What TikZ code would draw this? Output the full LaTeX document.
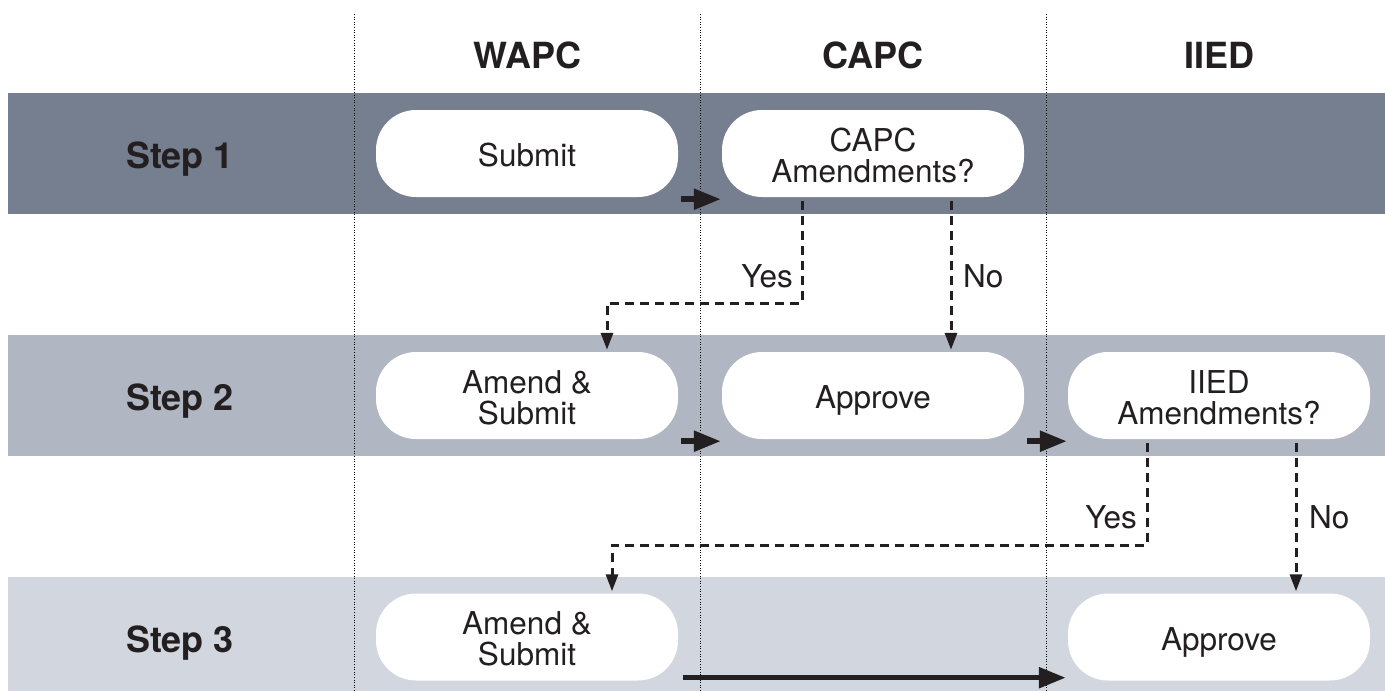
\documentclass[tikz,border=0pt]{standalone}
\usepackage{fontspec}
\setmainfont{TeX Gyre Heros}
\usetikzlibrary{arrows.meta,calc}
\definecolor{bandA}{RGB}{118,127,143}
\definecolor{bandB}{RGB}{176,182,194}
\definecolor{bandC}{RGB}{209,214,223}
\definecolor{ink}{RGB}{35,31,32}
\tikzset{
  box/.style={draw=none, fill=white, rounded corners=40pt, minimum width=302pt, minimum height=87pt, inner sep=0pt, align=center, text=ink, font=\fontsize{31.5}{31}\selectfont},
  oneline/.style={text height=26.5pt, text depth=0pt},
  twoline/.style={text height=57pt, text depth=0pt},
  header/.style={text=ink, font=\bfseries\fontsize{36}{40}\selectfont, inner sep=0pt, anchor=base},
  steplabel/.style={text=ink, font=\bfseries\fontsize{36}{40}\selectfont, inner sep=0pt, anchor=base},
  lbl/.style={text=ink, font=\fontsize{31.5}{35}\selectfont, inner sep=0pt},
  lane/.style={draw=black, line width=0.8pt, dash pattern=on 1pt off 1.6pt},
  flow/.style={draw=ink, line width=5.5pt, -{Triangle[length=27pt,width=20pt]}},
  choice/.style={draw=ink, line width=3pt, dash pattern=on 9pt off 6pt, -{Triangle[length=17pt,width=12pt]}}
}
\begin{document}
\begin{tikzpicture}[x=1pt,y=-1pt]
\useasboundingbox (0,0) rectangle (1385,691);
\fill[white] (0,0) rectangle (1385,691);
% bands
\fill[bandA] (8,93) rectangle (1385,214);
\fill[bandB] (8,335) rectangle (1385,456);
\fill[bandC] (8,577) rectangle (1385,691);
% lane separators
\coordinate (l1t) at (354,14); \coordinate (l1b) at (354,691);
\coordinate (l2t) at (700,14); \coordinate (l2b) at (700,691);
\coordinate (l3t) at (1046,14); \coordinate (l3b) at (1046,691);
\draw[lane] (l1t) -- (l1b);
\draw[lane] (l2t) -- (l2b);
\draw[lane] (l3t) -- (l3b);
% headers
\node[header] (hW) at (527,68) {WAPC};
\node[header] (hC) at (873,68) {CAPC};
\node[header] (hI) at (1219,68) {IIED};
\node[steplabel] (s1) at (180,168) {Step 1};
\node[steplabel] (s2) at (180,410) {Step 2};
\node[steplabel] (s3) at (180,652) {Step 3};
% boxes
\node[box, oneline] (submit) at (527,153.5) {Submit};
\node[box, twoline] (capc) at (873,153.5) {CAPC\\Amendments?};
\node[box, twoline] (amend1) at (527,395.5) {Amend \&\\Submit};
\node[box, oneline] (approve1) at (873,395.5) {Approve};
\node[box, twoline] (iied) at (1219,395.5) {IIED\\Amendments?};
\node[box, twoline] (amend2) at (527,637) {Amend \&\\Submit};
\node[box, oneline] (approve2) at (1219,637) {Approve};
% solid flows
\draw[flow] ([shift={(3,2)}]submit.south east) -- ([shift={(-1,2)}]capc.south west);
\draw[flow] ([shift={(3,2)}]amend1.south east) -- ([shift={(-1,2)}]approve1.south west);
\draw[flow] ([shift={(3,2)}]approve1.south east) -- ([shift={(-1,2)}]iied.south west);
\draw[flow] ([shift={(5,-3)}]amend2.south east) -- ([shift={(-2,-3)}]approve2.south west);
% decisions
\draw[choice] ([shift={(-71,4)}]capc.south) |- (700,303) -| ([shift={(80,-2)}]amend1.north);
\draw[choice] ([shift={(78,4)}]capc.south) -- ([shift={(78,-2)}]approve1.north);
\draw[choice] ([shift={(-72,4)}]iied.south) |- (900,545) -| ([shift={(85,-2)}]amend2.north);
\draw[choice] ([shift={(77,4)}]iied.south) -- ([shift={(77,-2)}]approve2.north);
\node[lbl, anchor=base east] (y1) at (793,287) {Yes};
\node[lbl, anchor=base west] (n1) at (963,287) {No};
\node[lbl, anchor=base east] (y2) at (1137,528) {Yes};
\node[lbl, anchor=base west] (n2) at (1309,528) {No};
\end{tikzpicture}
\end{document}
